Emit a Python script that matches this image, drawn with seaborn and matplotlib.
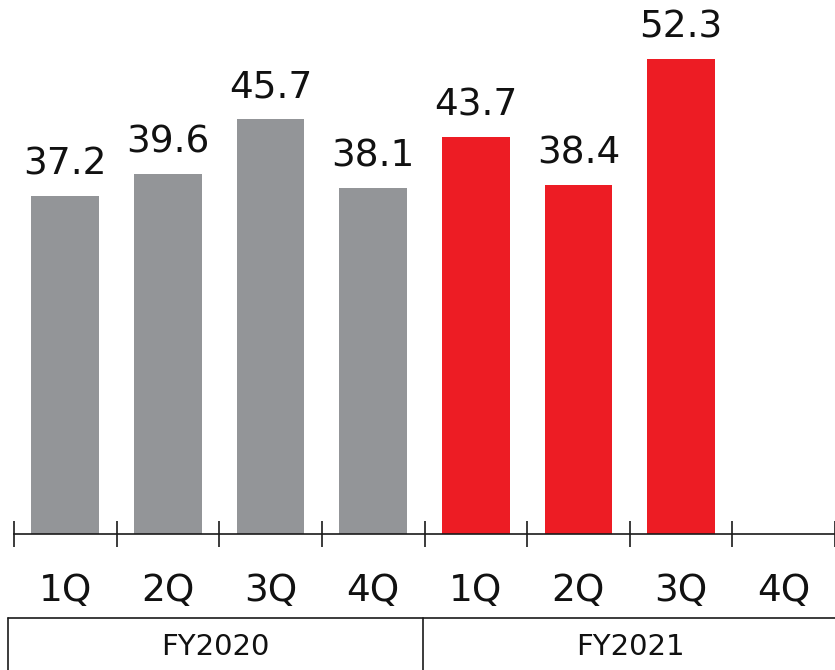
import numpy as np
import pandas as pd
import matplotlib
matplotlib.use("Agg")
import matplotlib.pyplot as plt
from matplotlib.lines import Line2D
import seaborn as sns

# Quarterly values by fiscal year (FY2021 4Q not yet reported)
fiscal_years = ["FY2020", "FY2021"]
quarters = ["1Q", "2Q", "3Q", "4Q"]
fy2020_values = [37.2, 39.6, 45.7, 38.1]
fy2021_values = [43.7, 38.4, 52.3, np.nan]
year_colors = {"FY2020": "#939598", "FY2021": "#ED1C24"}

rows = []
for fy, vals in zip(fiscal_years, [fy2020_values, fy2021_values]):
    for q, v in zip(quarters, vals):
        rows.append({"period": f"{fy} {q}", "fy": fy, "quarter": q, "value": v})
df = pd.DataFrame(rows)
order = list(df["period"])
palette = {p: year_colors[f] for p, f in zip(df["period"], df["fy"])}

sns.set_theme(style="white")
plt.rcParams["font.family"] = ["DejaVu Sans"]

W, H = 835, 670
fig = plt.figure(figsize=(W / 100, H / 100), dpi=100)
ax = fig.add_axes([14 / W, (H - 534) / H, (W - 14) / W, 534 / H])

sns.barplot(data=df.dropna(), x="period", y="value", order=order, hue="period",
            palette=palette, width=0.66, legend=False, saturation=1,
            edgecolor="none", ax=ax)

ax.set_xlim(-0.5, len(order) - 0.5)
ax.set_ylim(0, 58.8)
ax.set_xlabel("")
ax.set_ylabel("")
ax.set_yticks([])

for side in ["left", "right", "top"]:
    ax.spines[side].set_visible(False)
ax.spines["bottom"].set_color("#1a1a1a")
ax.spines["bottom"].set_linewidth(1.2)

# quarter labels centred under bars, separator ticks between them
ax.set_xticks(range(len(order)))
ax.set_xticklabels(list(df["quarter"]), fontsize=27, color="#111111")
ax.tick_params(axis="x", which="major", length=0, pad=28)
ax.set_xticks(np.arange(-0.5, len(order), 1.0), minor=True)
ax.tick_params(axis="x", which="minor", direction="inout", length=19,
               width=1.2, color="#1a1a1a", bottom=True)

# value labels above bars
for container in ax.containers:
    labels = ["" if np.isnan(b.get_height()) else f"{b.get_height():.1f}"
              for b in container]
    ax.bar_label(container, labels=labels, padding=10, fontsize=27,
                 color="#111111")

# fiscal-year group boxes below the axis
lw = 1.2
def fy(px):
    return 1 - px / H
fig.add_artist(Line2D([8 / W, 1], [fy(618), fy(618)], color="#1a1a1a", lw=lw))
for xpx in [8, 423]:
    fig.add_artist(Line2D([xpx / W, xpx / W], [fy(618), 0], color="#1a1a1a", lw=lw))
for label, (x0, x1) in zip(fiscal_years, [(8, 423), (423, 837)]):
    fig.text((x0 + x1) / 2 / W, fy(647), label, ha="center", va="center",
             fontsize=21, color="#111111")

fig.savefig("out.png", dpi=100)
